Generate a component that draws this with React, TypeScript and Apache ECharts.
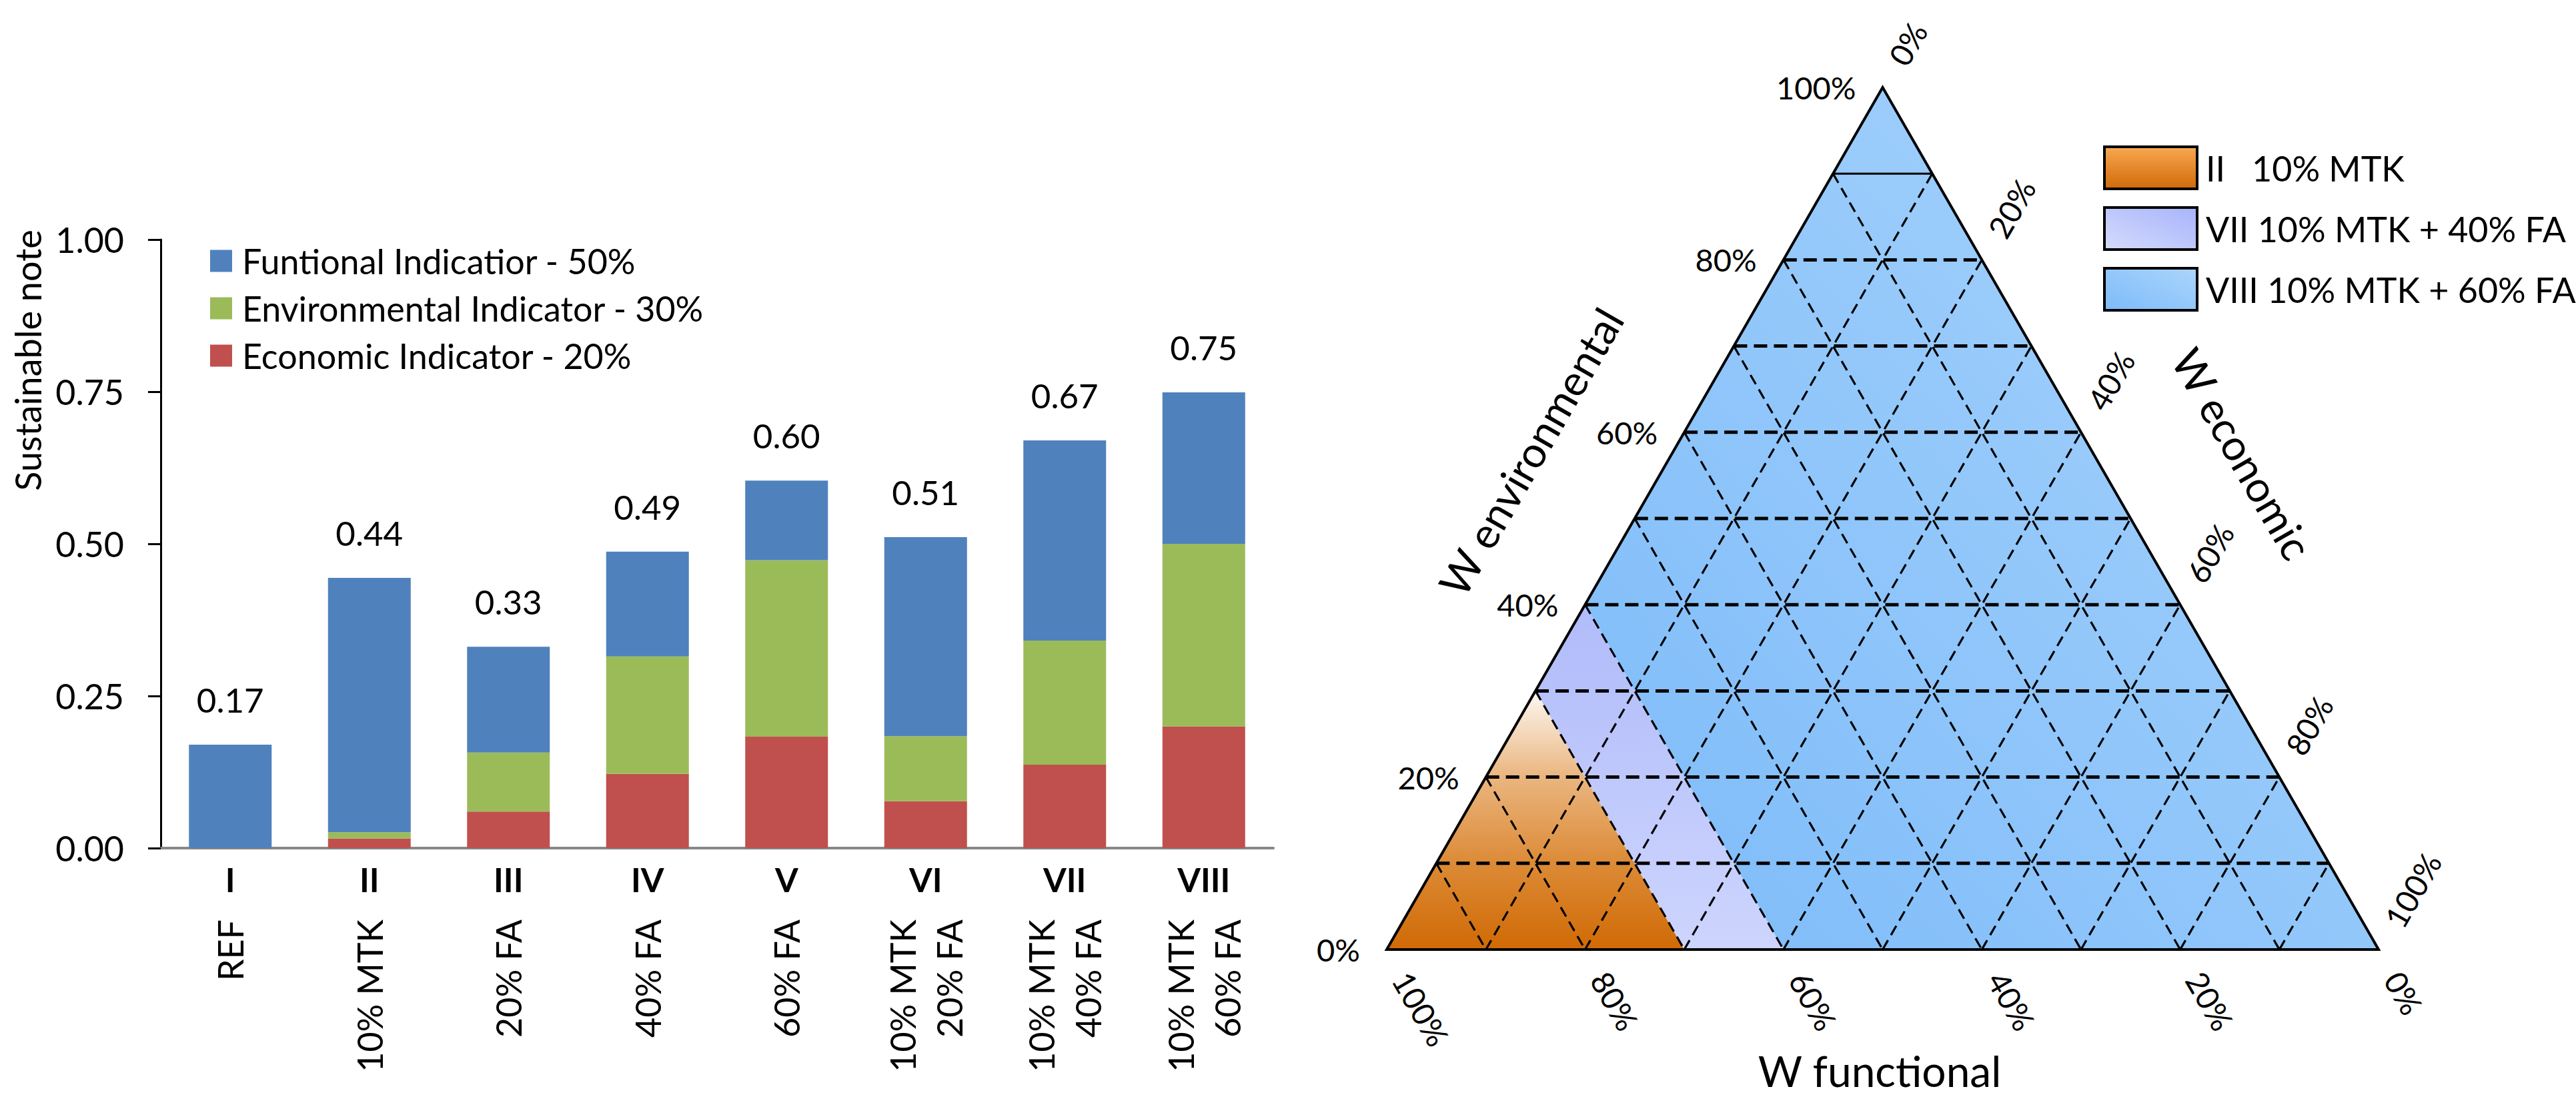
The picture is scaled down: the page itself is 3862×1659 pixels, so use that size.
import React, { useEffect, useRef } from "react";
import * as echarts from "echarts";

// ---------- Bar chart data ----------
const CATEGORIES = ["I", "II", "III", "IV", "V", "VI", "VII", "VIII"];
const MIXES = [
  "REF",
  "10% MTK",
  "20% FA",
  "40% FA",
  "60% FA",
  "10% MTK\n20% FA",
  "10% MTK\n40% FA",
  "10% MTK\n60% FA",
];
const ECONOMIC = [0, 0.016, 0.06, 0.122, 0.183, 0.077, 0.137, 0.2];
const ENVIRONMENTAL = [0, 0.01, 0.097, 0.193, 0.29, 0.107, 0.204, 0.3];
const FUNCTIONAL = [0.17, 0.418, 0.174, 0.172, 0.131, 0.327, 0.329, 0.249];
const SERIES_NAMES = [
  "Funtional Indicatior - 50%",
  "Environmental Indicator - 30%",
  "Economic Indicator - 20%",
];
const Y_MIN = 0;
const Y_MAX = 1;
const Y_STEP = 0.25;

// ---------- Ternary diagram data ----------
const TERNARY_TICKS = [0, 0.2, 0.4, 0.6, 0.8, 1];
const GRID_STEPS = [0.1, 0.2, 0.3, 0.4, 0.5, 0.6, 0.7, 0.8, 0.9];
const SOLID_ENV_LEVELS = [0.9];
const REGION_NAMES = ["II   10% MTK", "VII 10% MTK + 40% FA", "VIII 10% MTK + 60% FA"];
const REGION_F_MIN = [0.7, 0.6, 0];
const REGION_F_MAX = [1, 0.7, 0.6];

const FONT = "Lato, 'Open Sans', sans-serif";

// (functional, environmental, economic) -> cartesian [x, y]
function toXY(f: number, e: number, c: number): [number, number] {
  return [c + e / 2, e];
}

const G = echarts.graphic;
const regionFill = [
  new G.LinearGradient(0, 0, 0, 1, [
    { offset: 0, color: "#fdf8f2" },
    { offset: 0.33, color: "#eab680" },
    { offset: 0.67, color: "#dc8a36" },
    { offset: 1, color: "#d06a05" },
  ]),
  new G.LinearGradient(0, 0, 0, 1, [
    { offset: 0, color: "#b0bbfa" },
    { offset: 1, color: "#cdd5fd" },
  ]),
  new G.LinearGradient(0, 1, 1, 0, [
    { offset: 0, color: "#7dbbf9" },
    { offset: 1, color: "#a9d4fc" },
  ]),
];
const legendFill = [
  new G.LinearGradient(0, 0, 0, 1, [
    { offset: 0, color: "#f8a852" },
    { offset: 1, color: "#d06a08" },
  ]),
  new G.LinearGradient(0, 1, 1, 0, [
    { offset: 0, color: "#d4dbfd" },
    { offset: 1, color: "#a8b4fa" },
  ]),
  new G.LinearGradient(0, 1, 1, 0, [
    { offset: 0, color: "#7dbbf9" },
    { offset: 1, color: "#abd5fc" },
  ]),
];

function buildOption() {
  const totals = CATEGORIES.map((_, i) => ECONOMIC[i] + ENVIRONMENTAL[i] + FUNCTIONAL[i]);

  const gridLineItems: number[][] = [];
  // family 0: constant environmental (horizontal), 1: constant functional, 2: constant economic
  [0, 1, 2].forEach((fam) => GRID_STEPS.forEach((k) => gridLineItems.push([fam, k])));

  const tickItems: number[][] = [];
  [0, 1, 2].forEach((side) => TERNARY_TICKS.forEach((v) => tickItems.push([side, v])));

  const textStyle = (size: number, align: string, vAlign: string) => ({
    font: `${size}px ${FONT}`,
    fill: "#000",
    align,
    verticalAlign: vAlign,
    textAlign: align,
    textVerticalAlign: vAlign,
  });

  const regionSeries = REGION_NAMES.map((name, i) => ({
    type: "custom",
    name,
    coordinateSystem: "cartesian2d",
    xAxisIndex: 2,
    yAxisIndex: 1,
    clip: false,
    silent: true,
    itemStyle: { color: legendFill[i] },
    data: [[REGION_F_MIN[i], REGION_F_MAX[i]]],
    renderItem: (params: any, api: any) => {
      const fMin = api.value(0);
      const fMax = api.value(1);
      const pts = [
        toXY(fMax, 1 - fMax, 0),
        toXY(fMax, 0, 1 - fMax),
        toXY(fMin, 0, 1 - fMin),
        toXY(fMin, 1 - fMin, 0),
      ].map((p) => api.coord(p));
      return { type: "polygon", shape: { points: pts }, style: { fill: regionFill[i] } };
    },
  }));

  const gridSeries = {
    type: "custom",
    name: "ternary-grid",
    coordinateSystem: "cartesian2d",
    xAxisIndex: 2,
    yAxisIndex: 1,
    clip: false,
    silent: true,
    data: gridLineItems,
    renderItem: (params: any, api: any) => {
      const fam = api.value(0);
      const k = api.value(1);
      let a: [number, number];
      let b: [number, number];
      if (fam === 0) {
        a = toXY(1 - k, k, 0);
        b = toXY(0, k, 1 - k);
      } else if (fam === 1) {
        a = toXY(k, 1 - k, 0);
        b = toXY(k, 0, 1 - k);
      } else {
        a = toXY(1 - k, 0, k);
        b = toXY(0, 1 - k, k);
      }
      const p1 = api.coord(a);
      const p2 = api.coord(b);
      const solid = fam === 0 && SOLID_ENV_LEVELS.some((s) => Math.abs(s - k) < 1e-6);
      const style: any = {
        stroke: "#000",
        lineWidth: solid ? 3 : fam === 0 ? 5 : 3.2,
        fill: null,
      };
      if (!solid) style.lineDash = fam === 0 ? [20, 10] : [16, 9];
      return {
        type: "line",
        shape: { x1: p1[0], y1: p1[1], x2: p2[0], y2: p2[1] },
        style,
      };
    },
  };

  const frameSeries = {
    type: "custom",
    name: "ternary-frame",
    coordinateSystem: "cartesian2d",
    xAxisIndex: 2,
    yAxisIndex: 1,
    clip: false,
    silent: true,
    data: [[0, 0]],
    renderItem: (params: any, api: any) => {
      const pts = [toXY(1, 0, 0), toXY(0, 0, 1), toXY(0, 1, 0)].map((p) => api.coord(p));
      return {
        type: "polygon",
        shape: { points: pts },
        style: { fill: null, stroke: "#000", lineWidth: 4, lineJoin: "miter" },
      };
    },
  };

  const tickSeries = {
    type: "custom",
    name: "ternary-ticks",
    coordinateSystem: "cartesian2d",
    xAxisIndex: 2,
    yAxisIndex: 1,
    clip: false,
    silent: true,
    data: tickItems,
    renderItem: (params: any, api: any) => {
      const side = api.value(0);
      const v = api.value(1);
      const text = `${Math.round(v * 100)}%`;
      const d = 43;
      if (side === 0) {
        const p = api.coord(toXY(1 - v, v, 0));
        return { type: "text", x: p[0] - 40, y: p[1], style: { text, ...textStyle(47, "right", "middle") } };
      }
      if (side === 1) {
        const p = api.coord(toXY(0, 1 - v, v));
        return {
          type: "text",
          x: p[0] + d * 0.5,
          y: p[1] - d * 0.866,
          rotation: Math.PI / 3,
          style: { text, ...textStyle(47, "left", "middle") },
        };
      }
      const p = api.coord(toXY(v, 0, 1 - v));
      return {
        type: "text",
        x: p[0] + d * 0.5,
        y: p[1] + d * 0.866,
        rotation: -Math.PI / 3,
        style: { text, ...textStyle(47, "left", "middle") },
      };
    },
  };

  return {
    animation: false,
    backgroundColor: "#ffffff",
    textStyle: { fontFamily: FONT },
    grid: [
      { left: 241, top: 359, width: 1668, height: 912 },
      { left: 2079, top: 131, width: 1487, height: 1292 },
    ],
    legend: [
      {
        data: SERIES_NAMES,
        orient: "vertical",
        left: 310,
        top: 360,
        itemWidth: 33,
        itemHeight: 33,
        itemGap: 19,
        icon: "rect",
        selectedMode: false,
        textStyle: { fontFamily: FONT, fontSize: 52, color: "#000", lineHeight: 52, padding: [0, 0, 0, 10] },
      },
      {
        data: REGION_NAMES.map((name, i) => ({
          name,
          icon: "rect",
          itemStyle: { color: legendFill[i], borderColor: "#000", borderWidth: 4 },
        })),
        orient: "vertical",
        left: 3148,
        top: 213,
        itemWidth: 139,
        itemHeight: 63,
        itemGap: 24,
        selectedMode: false,
        itemStyle: { borderColor: "#000", borderWidth: 4 },
        textStyle: { fontFamily: FONT, fontSize: 52, color: "#000", lineHeight: 63, padding: [0, 0, 0, 8] },
      },
    ],
    xAxis: [
      {
        type: "category",
        gridIndex: 0,
        data: CATEGORIES,
        position: "bottom",
        axisLine: { show: true, lineStyle: { color: "#878787", width: 4 } },
        axisTick: { show: false },
        axisLabel: { interval: 0, margin: 22, fontSize: 50, fontWeight: "bold", color: "#000", fontFamily: FONT },
      },
      {
        type: "category",
        gridIndex: 0,
        data: MIXES,
        position: "bottom",
        offset: 0,
        axisLine: { show: false },
        axisTick: { show: false },
        axisLabel: { interval: 0, rotate: 90, margin: 107, fontSize: 52, lineHeight: 70, color: "#000", fontFamily: FONT },
      },
      { type: "value", gridIndex: 1, min: 0, max: 1, show: false },
    ],
    yAxis: [
      {
        type: "value",
        gridIndex: 0,
        min: Y_MIN,
        max: Y_MAX,
        interval: Y_STEP,
        axisLine: { show: true, lineStyle: { color: "#000", width: 3 } },
        axisTick: { show: true, inside: false, length: 19, lineStyle: { color: "#000", width: 3 } },
        splitLine: { show: false },
        axisLabel: {
          formatter: (v: number) => v.toFixed(2),
          fontSize: 52,
          margin: 55,
          color: "#000",
          fontFamily: FONT,
        },
      },
      { type: "value", gridIndex: 1, min: 0, max: 1, show: false },
    ],
    graphic: [
      {
        type: "text",
        x: 41,
        y: 540,
        rotation: Math.PI / 2,
        style: { text: "Sustainable note", ...textStyle(54, "center", "middle") },
      },
      {
        type: "text",
        x: 2295,
        y: 677,
        rotation: Math.PI / 3,
        style: { text: "W environmental", ...textStyle(64, "center", "middle") },
      },
      {
        type: "text",
        x: 3362,
        y: 680,
        rotation: -Math.PI / 3,
        style: { text: "W economic", ...textStyle(64, "center", "middle") },
      },
      {
        type: "text",
        x: 2818,
        y: 1604,
        style: { text: "W functional", ...textStyle(64, "center", "middle") },
      },
    ],
    series: [
      {
        name: SERIES_NAMES[2],
        type: "bar",
        stack: "total",
        xAxisIndex: 0,
        yAxisIndex: 0,
        barWidth: 124,
        data: ECONOMIC,
        itemStyle: { color: "#C0504D" },
      },
      {
        name: SERIES_NAMES[1],
        type: "bar",
        stack: "total",
        xAxisIndex: 0,
        yAxisIndex: 0,
        barWidth: 124,
        data: ENVIRONMENTAL,
        itemStyle: { color: "#9BBB59" },
      },
      {
        name: SERIES_NAMES[0],
        type: "bar",
        stack: "total",
        xAxisIndex: 0,
        yAxisIndex: 0,
        barWidth: 124,
        data: FUNCTIONAL,
        itemStyle: { color: "#4F81BD" },
        label: {
          show: true,
          position: "top",
          distance: 42,
          formatter: (p: any) => totals[p.dataIndex].toFixed(2),
          fontSize: 51,
          color: "#000",
          fontFamily: FONT,
        },
      },
      ...regionSeries,
      gridSeries,
      frameSeries,
      tickSeries,
    ],
  };
}

export default function App() {
  const ref = useRef<HTMLDivElement>(null);
  useEffect(() => {
    if (!ref.current) return;
    const chart = echarts.init(ref.current, null, { renderer: "svg" });
    chart.setOption(buildOption() as any);
    return () => chart.dispose();
  }, []);
  return (
    <div
      ref={ref}
      style={{ position: "fixed", left: 0, top: 0, width: 3862, height: 1659, background: "#fff" }}
    />
  );
}
